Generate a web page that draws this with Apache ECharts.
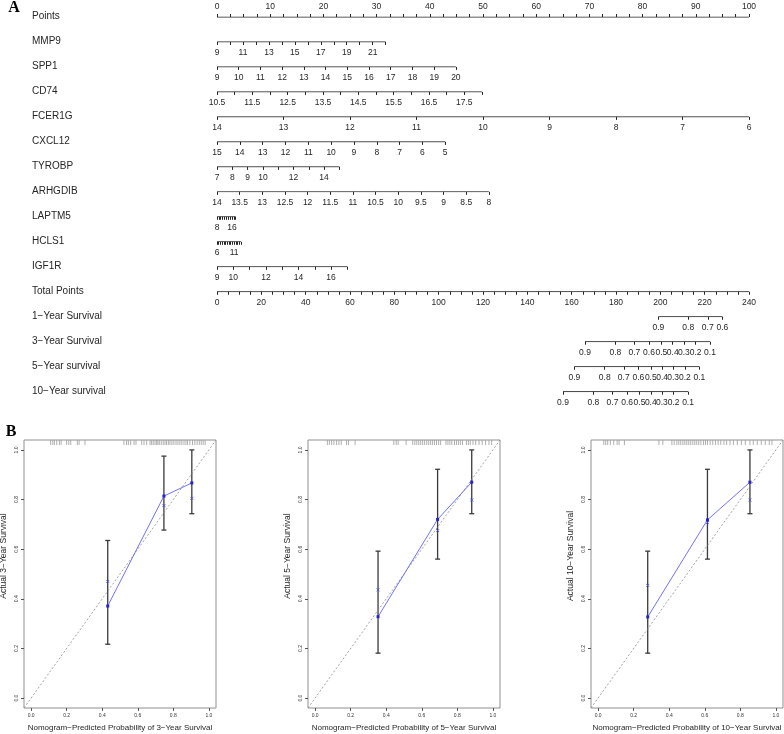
<!DOCTYPE html>
<html><head><meta charset="utf-8">
<script src="https://cdn.jsdelivr.net/npm/echarts@6/dist/echarts.min.js"></script>
<style>html,body{margin:0;padding:0;background:#fff}#c{width:784px;height:734px}</style>
</head><body><div id="c"></div>
<script>
// ================= DATA: Panel A (nomogram) =================
const rowNames = ['Points','MMP9','SPP1','CD74','FCER1G','CXCL12','TYROBP','ARHGDIB','LAPTM5','HCLS1','IGF1R',
  'Total Points','1\u2212Year Survival','3\u2212Year Survival','5\u2212Year survival','10\u2212Year survival'];
const pointsLabels = [0,10,20,30,40,50,60,70,80,90,100];
const totalPointsLabels = [0,20,40,60,80,100,120,140,160,180,200,220,240];
const varNames     = ['MMP9','SPP1','CD74','FCER1G','CXCL12','TYROBP','ARHGDIB','LAPTM5','HCLS1','IGF1R'];
const varLow       = [9, 9, 10.5, 14, 15, 7, 14, 8, 6, 9];
const varHigh      = [22, 20, 18, 6, 5, 15, 8, 18, 13, 17];
const varMaxPoints = [31.7, 44.9, 49.8, 100, 42.9, 23.0, 51.1, 3.5, 4.5, 24.5];
const varTickStep  = [1, 1, 0.5, 1, 1, 1, 0.5, 1, 0.5, 1];
const varLabels = [
  [9,11,13,15,17,19,21],
  [9,10,11,12,13,14,15,16,17,18,19,20],
  [10.5,11.5,12.5,13.5,14.5,15.5,16.5,17.5],
  [14,13,12,11,10,9,8,7,6],
  [15,14,13,12,11,10,9,8,7,6,5],
  [7,8,9,10,12,14],
  [14,13.5,13,12.5,12,11.5,11,10.5,10,9.5,9,8.5,8],
  [8,16],
  [6,11],
  [9,10,12,14,16]
];
const survLabels1 = ['0.9','0.8','0.7','0.6'];
const survPos1    = [199.1, 212.6, 221.4, 228.0];
const survLabels  = ['0.9','0.8','0.7','0.6','0.5','0.4','0.3','0.2','0.1'];
const survPos3    = [166.0, 179.7, 188.3, 194.9, 200.5, 205.6, 210.6, 215.9, 222.4];
const survPos5    = [161.2, 174.9, 183.5, 190.1, 195.7, 200.8, 205.8, 211.1, 217.6];
const survPos10   = [156.1, 169.8, 178.4, 185.0, 190.6, 195.7, 200.7, 206.0, 212.5];

// ================= DATA: Panel B (calibration) =================
const calTicks = [0, 0.2, 0.4, 0.6, 0.8, 1.0];
const calTitlesX = ['Nomogram\u2212Predicted Probability of 3\u2212Year Survival',
                    'Nomogram\u2212Predicted Probability of 5\u2212Year Survival',
                    'Nomogram\u2212Predicted Probability of 10\u2212Year Survival'];
const calTitlesY = ['Actual 3\u2212Year Survival','Actual 5\u2212Year Survival','Actual 10\u2212Year Survival'];

const cal3Pred = [0.431, 0.747, 0.904];
const cal3Obs  = [0.371, 0.814, 0.867];
const cal3Corr = [0.470, 0.776, 0.805];
const cal3Lo   = [0.217, 0.677, 0.743];
const cal3Hi   = [0.635, 0.975, 1.000];
const cal3Rug  = [0.110,0.122,0.131,0.144,0.159,0.169,0.200,0.212,0.223,0.260,0.270,0.303,
  0.522,0.537,0.547,0.560,0.579,0.590,0.622,0.635,0.650,0.669,0.678,0.687,0.697,0.706,0.713,0.721,
  0.732,0.743,0.753,0.762,0.772,0.781,0.792,0.803,0.815,0.826,0.837,0.848,0.860,0.871,0.880,0.893,
  0.908,0.921,0.934,0.946,0.957,0.968,0.979];

const cal5Pred = [0.354, 0.689, 0.881];
const cal5Obs  = [0.328, 0.720, 0.870];
const cal5Corr = [0.436, 0.675, 0.798];
const cal5Lo   = [0.181, 0.560, 0.743];
const cal5Hi   = [0.592, 0.922, 1.000];
const cal5Rug  = [0.069,0.080,0.093,0.106,0.121,0.134,0.147,0.177,0.188,0.225,
  0.443,0.456,0.467,0.512,0.549,0.561,0.572,0.583,0.594,0.605,0.616,0.628,0.639,0.650,0.661,0.672,
  0.683,0.695,0.706,0.736,0.747,0.758,0.769,0.784,0.795,0.806,0.817,0.829,0.851,0.862,0.873,0.888,
  0.903,0.922,0.940,0.959,0.978,0.993];

const cal10Pred = [0.279, 0.615, 0.854];
const cal10Obs  = [0.327, 0.718, 0.870];
const cal10Corr = [0.454, 0.707, 0.798];
const cal10Lo   = [0.181, 0.560, 0.743];
const cal10Hi   = [0.592, 0.922, 1.000];
const cal10Rug  = [0.032,0.043,0.054,0.069,0.088,0.107,0.118,0.148,
  0.342,0.364,0.415,0.428,0.443,0.454,0.465,0.477,0.488,0.499,0.510,0.521,0.533,0.544,0.555,0.566,
  0.578,0.593,0.604,0.615,0.630,0.645,0.660,0.675,0.690,0.708,0.723,0.742,0.761,0.783,0.806,0.828,
  0.854,0.873,0.895,0.918,0.940,0.963,0.978];

// ================= BUILD =================
const FONT = '"Liberation Sans", Arial, Helvetica, sans-serif';
const INK = '#262626';
const NL = 217, NR = 749, ROW0 = 17, ROWSTEP = 24.98;
const TICKFS = 8.5, NAMEFS = 10;

function seq(a, b, s) { const out = []; for (let v = a; v <= b + 1e-9; v += s) out.push(Math.round(v * 1000) / 1000); return out; }
function fmtNum(v) { return String(Math.round(v * 1000) / 1000); }

const grids = [], xAxes = [], yAxes = [], series = [], graphics = [];

function addNomoRow(y, min, max, inverse, ticks, labels, formatter, lineFrom, lineTo, up) {
  const idx = grids.length;
  grids.push({ left: NL, width: NR - NL, top: up ? y : y - 10, height: 10 });
  xAxes.push({
    gridIndex: idx, type: 'value', min: min, max: max, inverse: inverse,
    position: up ? 'top' : 'bottom',
    axisLine: { show: false, onZero: false }, splitLine: { show: false },
    axisTick: { show: true, length: 3, customValues: ticks, lineStyle: { color: INK, width: 1 } },
    axisLabel: { show: true, customValues: labels, fontSize: TICKFS, color: INK, margin: 6,
                 fontFamily: FONT, formatter: formatter, hideOverlap: false }
  });
  yAxes.push({ gridIndex: idx, type: 'value', min: 0, max: 1, show: false });
  series.push({ type: 'line', xAxisIndex: idx, yAxisIndex: idx, symbol: 'none', silent: true,
    data: [[lineFrom, up ? 1 : 0], [lineTo, up ? 1 : 0]], lineStyle: { color: INK, width: 1 } });
}

// Row names
rowNames.forEach((n, i) => {
  graphics.push({ type: 'text', x: 32, y: ROW0 + i * ROWSTEP - 0.5,
    style: { text: n, fontSize: NAMEFS, fill: INK, fontFamily: FONT, align: 'left', verticalAlign: 'middle' } });
});

// Points row
addNomoRow(ROW0, 0, 100, false, seq(0, 100, 2.5), pointsLabels, fmtNum, 0, 100, true);

// Variable rows
varNames.forEach((name, i) => {
  const lo = varLow[i], hi = varHigh[i];
  const span = Math.abs(hi - lo) * 100 / varMaxPoints[i];
  const inv = hi < lo;
  const min = inv ? lo - span : lo;
  const max = inv ? lo : lo + span;
  const ticks = seq(Math.min(lo, hi), Math.max(lo, hi), varTickStep[i]);
  addNomoRow(ROW0 + (i + 1) * ROWSTEP, min, max, inv, ticks, varLabels[i], fmtNum, lo, hi, false);
});

// Total points row
addNomoRow(ROW0 + 11 * ROWSTEP, 0, 240, false, seq(0, 240, 5), totalPointsLabels, fmtNum, 0, 240, false);

// Survival rows (on total-points scale)
function survRow(k, pos, labs) {
  const f = (v) => { let b = 0, d = 1e9; pos.forEach((p, j) => { if (Math.abs(p - v) < d) { d = Math.abs(p - v); b = j; } }); return labs[b]; };
  addNomoRow(ROW0 + k * ROWSTEP, 0, 240, false, pos, pos, f, pos[0], pos[pos.length - 1], false);
}
survRow(12, survPos1, survLabels1);
survRow(13, survPos3, survLabels);
survRow(14, survPos5, survLabels);
survRow(15, survPos10, survLabels);

// ---------- calibration plots ----------
const CAL_TOP = 440, CAL_H = 268, CAL_W = 192;
function addCal(k, left, pred, obs, corr, lo, hi, rug) {
  const idx = grids.length;
  grids.push({ left: left, width: CAL_W, top: CAL_TOP, height: CAL_H, show: true,
    borderColor: '#8f8f8f', borderWidth: 1, backgroundColor: 'transparent' });
  const axBase = (rot) => ({
    type: 'value', min: -0.04, max: 1.04, axisLine: { show: false, onZero: false }, splitLine: { show: false },
    axisTick: { show: true, length: 3, customValues: calTicks, lineStyle: { color: '#555' } },
    axisLabel: { show: true, customValues: calTicks, fontSize: 5, color: '#333', margin: 5,
                 fontFamily: FONT, rotate: rot, formatter: (v) => v.toFixed(1) }
  });
  xAxes.push(Object.assign({ gridIndex: idx, position: 'bottom' }, axBase(0)));
  yAxes.push(Object.assign({ gridIndex: idx, position: 'left' }, axBase(90)));
  // diagonal reference
  series.push({ type: 'line', xAxisIndex: idx, yAxisIndex: idx, symbol: 'none', silent: true,
    data: [[-0.04, -0.04], [1.04, 1.04]], lineStyle: { color: '#8a8a8a', width: 0.8, type: [2, 2] } });
  // error bars
  series.push({ type: 'custom', xAxisIndex: idx, yAxisIndex: idx, silent: true,
    data: pred.map((p, j) => [p, lo[j], hi[j]]), encode: { x: 0, y: [1, 2] },
    renderItem: (params, api) => {
      const t = api.coord([api.value(0), api.value(2)]);
      const b = api.coord([api.value(0), api.value(1)]);
      const w = 2.5, st = { stroke: '#3a3a3a', lineWidth: 1.3 };
      return { type: 'group', children: [
        { type: 'line', shape: { x1: t[0], y1: t[1], x2: b[0], y2: b[1] }, style: st },
        { type: 'line', shape: { x1: t[0] - w, y1: t[1], x2: t[0] + w, y2: t[1] }, style: st },
        { type: 'line', shape: { x1: b[0] - w, y1: b[1], x2: b[0] + w, y2: b[1] }, style: st }
      ] };
    } });
  // rug
  series.push({ type: 'custom', xAxisIndex: idx, yAxisIndex: idx, silent: true, clip: false,
    data: rug.map(v => [v, 1.04]), encode: { x: 0, y: 1 },
    renderItem: (params, api) => {
      const p = api.coord([api.value(0), api.value(1)]);
      return { type: 'line', shape: { x1: p[0], y1: p[1], x2: p[0], y2: p[1] + 5 },
               style: { stroke: '#9a9a9a', lineWidth: 0.8 } };
    } });
  // observed line
  series.push({ type: 'line', xAxisIndex: idx, yAxisIndex: idx, silent: true,
    data: pred.map((p, j) => [p, obs[j]]), symbol: 'rect', symbolSize: 3,
    itemStyle: { color: '#2323c8' }, lineStyle: { color: '#7171ff', width: 1 } });
  // bias-corrected markers
  series.push({ type: 'scatter', xAxisIndex: idx, yAxisIndex: idx, silent: true,
    data: pred.map((p, j) => [p, corr[j]]), symbol: 'path://M0,0L10,10M10,0L0,10', symbolSize: 3,
    itemStyle: { color: 'none', borderColor: '#4a4aee', borderWidth: 1 } });
  // titles
  const cx = left + CAL_W / 2;
  graphics.push({ type: 'text', x: cx, y: 728,
    style: { text: calTitlesX[k], fontSize: 8, fill: INK, fontFamily: FONT, align: 'center', verticalAlign: 'middle' } });
  graphics.push({ type: 'text', x: left - 20, y: 556, rotation: Math.PI / 2,
    style: { text: calTitlesY[k], fontSize: 8.5, fill: INK, fontFamily: FONT, align: 'center', verticalAlign: 'middle' } });
}
addCal(0, 24, cal3Pred, cal3Obs, cal3Corr, cal3Lo, cal3Hi, cal3Rug);
addCal(1, 308, cal5Pred, cal5Obs, cal5Corr, cal5Lo, cal5Hi, cal5Rug);
addCal(2, 591, cal10Pred, cal10Obs, cal10Corr, cal10Lo, cal10Hi, cal10Rug);

// panel letters
graphics.push({ type: 'text', x: 14, y: 8, style: { text: 'A', fontSize: 16, fontWeight: 'bold', fill: '#000',
  fontFamily: '"Liberation Serif", "Times New Roman", serif', align: 'center', verticalAlign: 'middle' } });
graphics.push({ type: 'text', x: 11, y: 432, style: { text: 'B', fontSize: 16, fontWeight: 'bold', fill: '#000',
  fontFamily: '"Liberation Serif", "Times New Roman", serif', align: 'center', verticalAlign: 'middle' } });

const chart = echarts.init(document.getElementById('c'), null, { renderer: 'canvas' });
chart.setOption({
  animation: false,
  backgroundColor: '#ffffff',
  textStyle: { fontFamily: FONT },
  grid: grids, xAxis: xAxes, yAxis: yAxes, series: series, graphic: graphics
});
</script></body></html>
